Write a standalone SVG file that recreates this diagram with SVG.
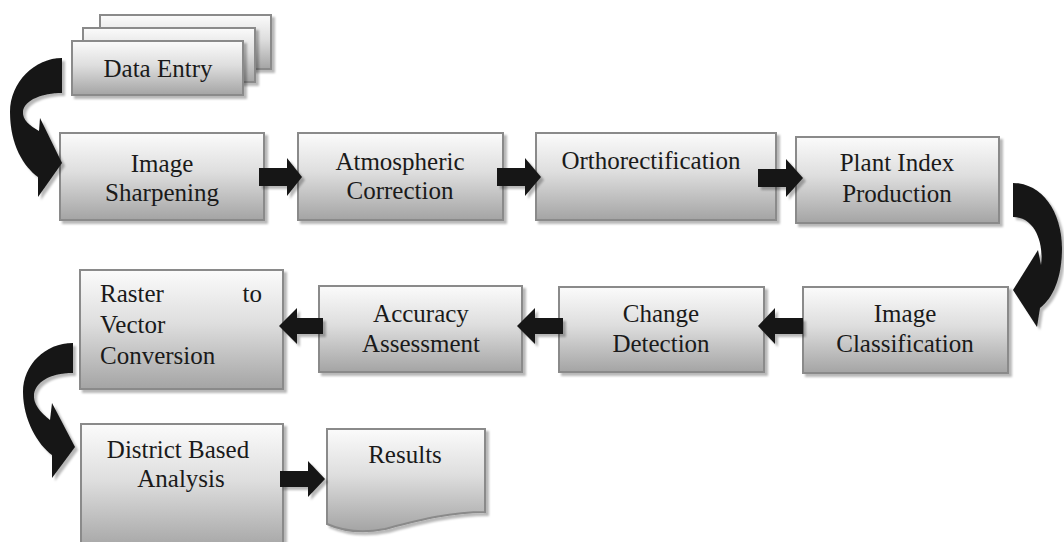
<svg xmlns="http://www.w3.org/2000/svg" width="1064" height="542" viewBox="0 0 1064 542">
<defs>
<linearGradient id="g" x1="0" y1="0" x2="0" y2="1">
<stop offset="0" stop-color="#fbfbfb"/>
<stop offset="0.45" stop-color="#dedede"/>
<stop offset="1" stop-color="#a4a4a4"/>
</linearGradient>
<filter id="sh" x="-10%" y="-10%" width="130%" height="130%">
<feDropShadow dx="3" dy="3" stdDeviation="1.2" flood-color="#000" flood-opacity="0.28"/>
</filter>
</defs>
<style>
.box{fill:url(#g);stroke:#8a8a8a;stroke-width:2;filter:url(#sh)}
.t{font-family:"Liberation Serif","Times New Roman",serif;font-size:25px;fill:#1a1a1a;text-anchor:middle}
.l{text-anchor:start}
.e{text-anchor:end}
.arr{fill:#161616;filter:url(#sh)}
</style>
<rect width="1064" height="542" fill="#fff"/>

<g id="data-entry">
<rect class="box" x="100" y="15" width="171" height="54"/>
<rect class="box" x="83" y="28" width="172" height="54"/>
<rect class="box" x="72" y="41" width="171" height="54"/>
<text class="t" x="158" y="77">Data Entry</text>
</g>
<g id="image-sharpening">
<rect class="box" x="60" y="133" width="204" height="87"/>
<text class="t" x="162" y="172">Image</text>
<text class="t" x="162" y="201">Sharpening</text>
</g>
<g id="atmospheric-correction">
<rect class="box" x="298" y="133" width="205" height="87"/>
<text class="t" x="400" y="170">Atmospheric</text>
<text class="t" x="400" y="199">Correction</text>
</g>
<g id="orthorectification">
<rect class="box" x="536" y="133" width="240" height="87"/>
<text class="t" x="651" y="169">Orthorectification</text>
</g>
<g id="plant-index-production">
<rect class="box" x="796" y="137" width="203" height="86"/>
<text class="t" x="897" y="171">Plant Index</text>
<text class="t" x="897" y="202">Production</text>
</g>
<g id="image-classification">
<rect class="box" x="803" y="287" width="205" height="86"/>
<text class="t" x="905" y="322">Image</text>
<text class="t" x="905" y="352">Classification</text>
</g>
<g id="change-detection">
<rect class="box" x="559" y="287" width="205" height="85"/>
<text class="t" x="661" y="322">Change</text>
<text class="t" x="661" y="352">Detection</text>
</g>
<g id="accuracy-assessment">
<rect class="box" x="319" y="286" width="203" height="86"/>
<text class="t" x="421" y="322">Accuracy</text>
<text class="t" x="421" y="352">Assessment</text>
</g>
<g id="raster-to-vector">
<rect class="box" x="80" y="270" width="203" height="119"/>
<text class="t l" x="100" y="302">Raster</text>
<text class="t e" x="262" y="302">to</text>
<text class="t l" x="100" y="333">Vector</text>
<text class="t l" x="100" y="364">Conversion</text>
</g>
<g id="district-based-analysis">
<rect class="box" x="81" y="424" width="202" height="126"/>
<text class="t" x="178" y="458">District Based</text>
<text class="t" x="181" y="487">Analysis</text>
</g>
<g id="results">
<path class="box" d="M327,429 H485 V512 C450,512 420,520 385,529 C365,533 345,532 327,524 Z"/>
<text class="t" x="405" y="463">Results</text>
</g>

<g id="connectors">
<path class="arr" d="M62,58 C35,58 10,82 10,112 C10,145 24,167 38,177 L38,197 L62,163 L40,118 L39,131 C30,126 22,120 23,111 C25,100 42,93 62,93 Z"/>
<polygon class="arr" points="259,168 287,168 287,158 302,177 287,196 287,186 259,186"/>
<polygon class="arr" points="497,168 525,168 525,158 541,177 525,196 525,186 497,186"/>
<polygon class="arr" points="758,169 786,169 786,159 803,178 786,197 786,187 758,187"/>
<path class="arr" d="M1013,183 C1042,183 1062,212 1062,248 C1062,278 1053,298 1040,308 L1037,327 L1013,290 L1038,250 L1041,265 C1044,245 1036,217 1013,217 Z"/>
<polygon class="arr" points="803,318 775,318 775,308 758,326 775,344 775,334 803,334"/>
<polygon class="arr" points="563,318 535,318 535,308 517,326 535,344 535,334 563,334"/>
<polygon class="arr" points="323,318 297,318 297,308 279,326 297,344 297,334 323,334"/>
<path class="arr" d="M73,343 C45,343 23,365 23,392 C23,420 38,445 52,455 L52,478 L75,447 L52,403 L50,420 C40,412 33,404 34,394 C36,383 48,373 73,373 Z"/>
<polygon class="arr" points="280,471 308,471 308,461 325,479 308,497 308,487 280,487"/>
</g>
</svg>
